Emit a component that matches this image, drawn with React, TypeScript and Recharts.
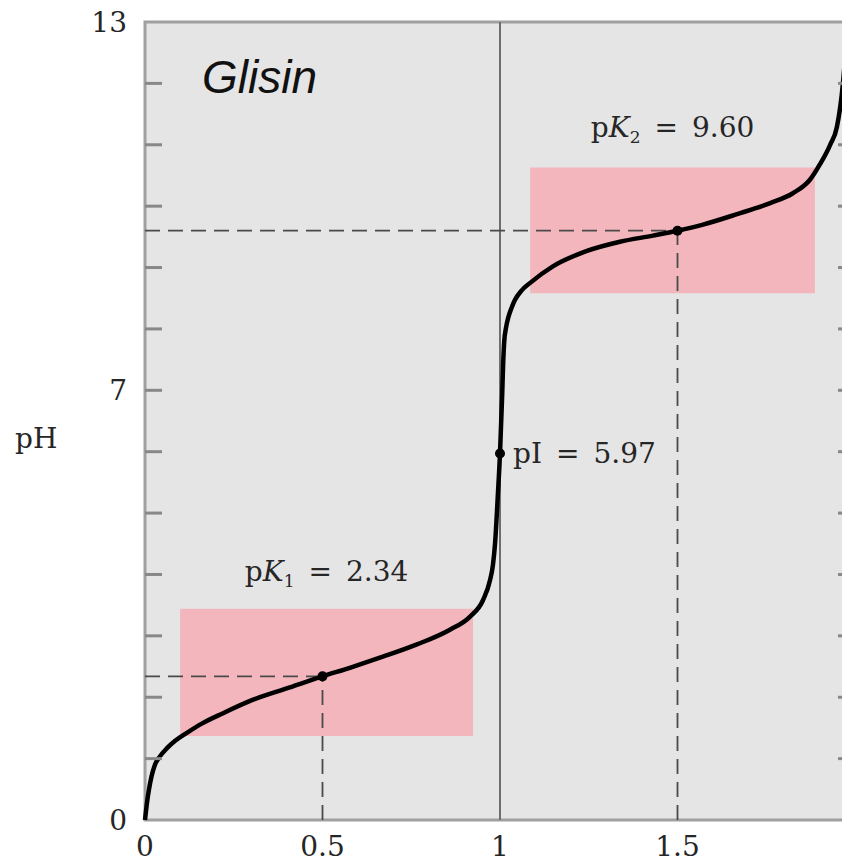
import React from 'react';
import {
  LineChart,
  Line,
  XAxis,
  YAxis,
  CartesianGrid,
  ReferenceArea,
  ReferenceLine,
  ReferenceDot,
} from 'recharts';

// equivalents of OH- added (x) and the pH
const eqOH = [
  0, 0.006, 0.011, 0.018, 0.028, 0.04, 0.062, 0.085, 0.118, 0.16, 0.22, 0.296,
  0.408, 0.5, 0.577, 0.67, 0.766, 0.859, 0.915, 0.952, 0.972, 0.98, 0.986,
  0.994, 1.0, 1.006, 1.009, 1.012, 1.017, 1.024, 1.033, 1.042, 1.06, 1.085,
  1.149, 1.245, 1.338, 1.431, 1.5, 1.572, 1.668, 1.761, 1.825, 1.873, 1.901,
  1.93, 1.949, 1.966, 1.977,
];
const phValues = [
  0, 0.3, 0.49, 0.7, 0.9, 1.02, 1.17, 1.29, 1.42, 1.57, 1.74, 1.94, 2.16, 2.34,
  2.48, 2.66, 2.86, 3.1, 3.31, 3.58, 3.91, 4.15, 4.5, 5.3, 5.97, 6.9, 7.45,
  7.8, 8.02, 8.2, 8.35, 8.47, 8.62, 8.75, 9.02, 9.27, 9.42, 9.52, 9.6, 9.7,
  9.87, 10.05, 10.21, 10.43, 10.68, 11.0, 11.29, 12.0, 12.82,
];

const xTicks = [0, 0.5, 1, 1.5, 2];
const yTicks = [0, 1, 2, 3, 4, 5, 6, 7, 8, 9, 10, 11, 12, 13];
const yLabelTicks = [0, 7, 13];

const pK1 = 2.34;
const pK2 = 9.6;
const pI = 5.97;

// buffer zones (pink boxes)
const buffer1 = { x1: 0.099, x2: 0.924, y1: 1.37, y2: 3.44 };
const buffer2 = { x1: 1.085, x2: 1.887, y1: 8.58, y2: 10.63 };

const curve = eqOH.map((x, i) => ({ x, ph: phValues[i] }));

const CHART_W = 880;
const CHART_H = 865;
const MARGIN_R = 33;
const Y_AXIS_W = 137;
const PLOT_W = CHART_W - MARGIN_R - Y_AXIS_W;
const TICK_MARGIN = 18;
const MINOR_LEN = 17;

const SERIF = '"DejaVu Serif", "Liberation Serif", serif';
const TEXT = '#262626';
const FRAME = '#a0a0a0';
const DASH = { stroke: '#4a4a4a', strokeWidth: 1.8, strokeDasharray: '15 8' };

// y tick: label outside for 0/7/13, short inward marks on both frame sides for the rest
const YTick = (props: any) => {
  const { x, y, payload } = props;
  const v = payload.value;
  const axisX = x + TICK_MARGIN;
  const showLabel = yLabelTicks.includes(v);
  const minor = v > 0 && v < 13;
  return (
    <g>
      {showLabel && (
        <text
          x={x}
          y={y}
          dy="0.36em"
          textAnchor="end"
          fontFamily={SERIF}
          fontSize={28}
          fill={TEXT}
        >
          {v}
        </text>
      )}
      {minor && (
        <>
          <line x1={axisX} x2={axisX + MINOR_LEN} y1={y} y2={y} stroke="#888" strokeWidth={3} />
          <line
            x1={axisX + PLOT_W - MINOR_LEN}
            x2={axisX + PLOT_W}
            y1={y}
            y2={y}
            stroke="#888"
            strokeWidth={3}
          />
        </>
      )}
    </g>
  );
};

const pkLabel = (sub: string, value: string, gap: number) => (props: any) => {
  const vb = props.viewBox;
  return (
    <text
      x={vb.x + vb.width / 2}
      y={vb.y - gap}
      textAnchor="middle"
      fontFamily={SERIF}
      fontSize={28}
      fill={TEXT}
    >
      p<tspan fontStyle="italic">K</tspan>
      <tspan fontSize={17} dy={6}>{sub}</tspan>
      <tspan dy={-6}>{'\u2002=\u2002' + value}</tspan>
    </text>
  );
};

const titleLabel = (props: any) => {
  const vb = props.viewBox;
  return (
    <text
      x={vb.x + 57}
      y={vb.y + 71}
      fontFamily='"Liberation Sans", Arial, sans-serif'
      fontStyle="italic"
      fontSize={46}
      fill="#111"
    >
      Glisin
    </text>
  );
};

export default function App() {
  return (
    <div
      style={{
        width: 842,
        height: CHART_H,
        marginTop: -8,
        marginBottom: -8,
        overflow: 'hidden',
      }}
    >
      <LineChart
        width={CHART_W}
        height={CHART_H}
        data={curve}
        margin={{ top: 22, right: MARGIN_R, bottom: 0, left: 0 }}
      >
        <CartesianGrid fill="#e5e5e5" horizontal={false} vertical={false} />
        <XAxis
          dataKey="x"
          type="number"
          domain={[0, 2]}
          ticks={xTicks}
          tickFormatter={(v: number) => String(v)}
          axisLine={false}
          tickLine={false}
          tickSize={0}
          tickMargin={16}
          height={45}
          tick={{ fontFamily: SERIF, fontSize: 28, fill: TEXT }}
        />
        <YAxis
          type="number"
          domain={[0, 13]}
          ticks={yTicks}
          interval={0}
          width={Y_AXIS_W}
          axisLine={false}
          tickLine={false}
          tickSize={0}
          tickMargin={TICK_MARGIN}
          tick={<YTick />}
          label={{
            value: 'pH',
            position: 'insideLeft',
            offset: 7,
            dy: 17,
            fontFamily: SERIF,
            fontSize: 28,
            fill: TEXT,
          }}
        />

        <ReferenceArea
          {...buffer1}
          fill="#f4b6bd"
          fillOpacity={1}
          label={pkLabel('1', pK1.toFixed(2), 28)}
        />
        <ReferenceArea
          {...buffer2}
          fill="#f4b6bd"
          fillOpacity={1}
          label={pkLabel('2', pK2.toFixed(2), 30)}
        />
        <ReferenceArea
          x1={0}
          x2={2}
          y1={0}
          y2={13}
          fill="none"
          stroke={FRAME}
          strokeWidth={3}
          label={titleLabel}
        />

        <ReferenceLine x={1} stroke="#6e6e6e" strokeWidth={2} />
        <ReferenceLine segment={[{ x: 0, y: pK1 }, { x: 0.5, y: pK1 }]} {...DASH} />
        <ReferenceLine segment={[{ x: 0.5, y: 0 }, { x: 0.5, y: pK1 }]} {...DASH} />
        <ReferenceLine segment={[{ x: 0, y: pK2 }, { x: 1.5, y: pK2 }]} {...DASH} />
        <ReferenceLine segment={[{ x: 1.5, y: 0 }, { x: 1.5, y: pK2 }]} {...DASH} />

        <Line
          dataKey="ph"
          type="monotone"
          stroke="#000"
          strokeWidth={4.5}
          dot={false}
          activeDot={false}
          isAnimationActive={false}
        />

        <ReferenceDot x={0.5} y={pK1} r={5} fill="#000" stroke="none" />
        <ReferenceDot x={1.5} y={pK2} r={5} fill="#000" stroke="none" />
        <ReferenceDot
          x={1}
          y={pI}
          r={5}
          fill="#000"
          stroke="none"
          label={{
            value: 'pI\u2002=\u2002' + pI.toFixed(2),
            position: 'right',
            offset: 8,
            fontFamily: SERIF,
            fontSize: 28,
            fill: TEXT,
          }}
        />
      </LineChart>
    </div>
  );
}
